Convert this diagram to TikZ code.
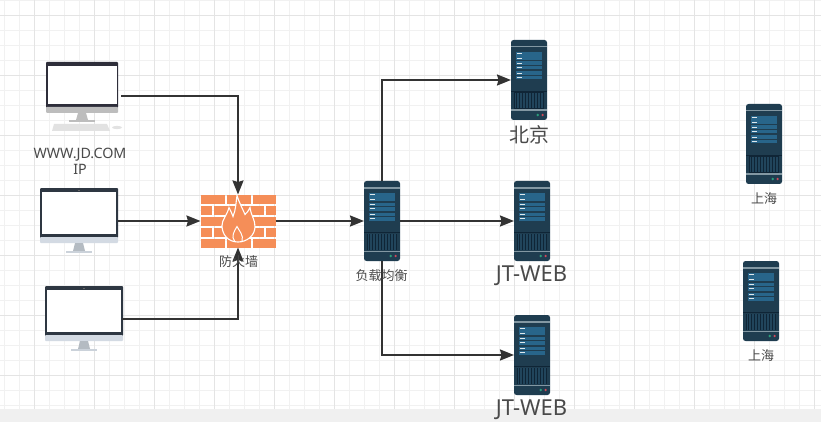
\documentclass[tikz,border=0pt]{standalone}
\usepackage{fontspec}
\setmainfont{Noto Sans}
\newfontfamily\cjk{Noto Sans CJK SC}
\usetikzlibrary{arrows.meta,calc}
\definecolor{gridminor}{HTML}{F1F1F1}
\definecolor{gridmajor}{HTML}{E4E4E4}
\definecolor{barbg}{HTML}{F0F0F0}
\definecolor{linecol}{HTML}{333333}
\definecolor{srvbody}{HTML}{1F3D50}
\definecolor{srvdark}{HTML}{0F2536}
\definecolor{srvlight}{HTML}{8398A3}
\definecolor{srvblue}{HTML}{28658A}
\definecolor{srvgreen}{HTML}{2A9D7A}
\definecolor{srvred}{HTML}{D04A5A}
\definecolor{brick}{HTML}{F58E58}
\definecolor{bezel}{HTML}{2E3742}
\definecolor{bezelb}{HTML}{2E2E3A}
\definecolor{basegray}{HTML}{BDBDBD}
\definecolor{baseblue}{HTML}{D3DAE3}
\definecolor{standgray}{HTML}{B4BBC2}
\definecolor{footblue}{HTML}{CBD2DA}
\definecolor{kbd}{HTML}{E2E2E2}
\definecolor{lblcol}{HTML}{4A4A4A}
\tikzset{
  conn/.style={draw=linecol,line width=2pt,-{Stealth[length=14pt,width=11pt,inset=1.5pt]}},
  iconbox/.style={inner sep=0pt,outer sep=0pt,draw=none},
  srvbox/.style={iconbox,minimum width=36pt,minimum height=80pt},
  lblsmall/.style={inner sep=0pt,text=lblcol,font=\cjk\fontsize{13}{15}\selectfont},
  lblbig/.style={inner sep=0pt,text=lblcol,font=\fontsize{22}{24}\selectfont},
  lblcjkbig/.style={inner sep=0pt,text=lblcol,font=\cjk\fontsize{20}{22}\selectfont},
  serverpic/.pic={
    \fill[srvbody,rounded corners=2.5pt] (0,0) rectangle (36,80);
    \fill[srvlight] (0,6) rectangle (36,7.5);
    \foreach \yy in {12,21.5,31.5}{
      \fill[srvblue] (5,\yy) rectangle (31,\yy+3.6);
      \fill[srvblue] (5,\yy+4.4) rectangle (31,\yy+8);
      \fill[white!85!srvblue] (6,\yy+1.2) rectangle (10.5,\yy+2.4);
      \fill[white!85!srvblue] (6,\yy+5.6) rectangle (10.5,\yy+6.8);
    }
    \fill[srvdark] (0,51) rectangle (36,51.6);
    \fill[srvdark] (3,52.5) rectangle (33,69);
    \foreach \xx in {4,5.5,7,8.5,10,11.5,13,14.5,16,17.5,19,20.5,22,23.5,25,26.5,28,29.5,31}{
      \fill[srvbody!80!srvblue] (\xx,53) rectangle (\xx+0.5,68.5);
    }
    \fill[srvlight] (0,69.5) rectangle (36,71);
    \fill[srvgreen] (26.7,75) circle[radius=1.3];
    \fill[srvred] (31.6,75) circle[radius=1.3];
  },
  monpic/.pic={
    \fill[bezel,rounded corners=1pt] (0,0) rectangle (78,50);
    \fill[white] (1.8,4.2) rectangle (76.2,46);
    \fill[black!60] (38,1.6) rectangle (40,2.6);
    \fill[baseblue,rounded corners=1pt] (0,49) rectangle (78,55);
    \fill[standgray] (35,55) -- (43,55) -- (45,63) -- (33,63) -- cycle;
    \fill[footblue] (26,63) rectangle (52,65);
  },
  monkbpic/.pic={
    \fill[bezelb,rounded corners=1pt] (0,0) rectangle (72,46);
    \fill[white] (1.5,4) rectangle (70.5,42.5);
    \fill[basegray,rounded corners=1pt] (0,45) rectangle (72,51);
    \fill[basegray] (32,51) -- (40,51) -- (42,58) -- (30,58) -- cycle;
    \fill[basegray] (23,58) rectangle (49,60);
    \fill[kbd] (8,62) -- (61,62) -- (64,69) -- (6,69) -- cycle;
    \fill[kbd] (71,65.5) ellipse[x radius=5,y radius=1.6];
  },
  firepic/.pic={
    \foreach \a/\b/\yy in {0/23.5/0,26/49.5/0,52/75/0,
                           0/10.5/11,13/36.5/11,39/62.5/11,65/75/11,
                           0/23.5/22,26/49.5/22,52/75/22,
                           0/10.5/33,13/36.5/33,39/62.5/33,65/75/33,
                           0/23.5/44,26/49.5/44,52/75/44}{
      \fill[brick] (\a,\yy) rectangle (\b,\yy+9.3);
    }
    \fill[brick,draw=white,line width=1.1pt]
      (37,47.5) .. controls (27,47.5) and (21,40) .. (21,31)
      .. controls (21,25) and (26,21) .. (28,13)
      .. controls (30,17) and (31,19) .. (32,22)
      .. controls (35,15) and (35,7) .. (36,1)
      .. controls (38,8) and (42,15) .. (44,20)
      .. controls (46,18) and (48,16) .. (49,13)
      .. controls (50,21) and (54,25) .. (54,32)
      .. controls (54,41) and (46,47.5) .. (37,47.5) -- cycle;
    \draw[white,line width=1pt] (33.5,46.5) .. controls (30,42) and (33,37) .. (36,32)
      .. controls (38,36) and (43,41) .. (41,46.5);
  }
}
\begin{document}
\begin{tikzpicture}[x=1pt,y=-1pt]
\useasboundingbox (0,0) rectangle (821,422);
\fill[white] (0,0) rectangle (821,422);
% grid
\foreach \gx in {4.5,19.5,...,821}{\draw[gridminor,line width=1pt] (\gx,0) -- (\gx,409);}
\foreach \gy in {0.5,15.5,...,409}{\draw[gridminor,line width=1pt] (0,\gy) -- (821,\gy);}
\foreach \gx in {34.5,94.5,...,821}{\draw[gridmajor,line width=1pt] (\gx,0) -- (\gx,409);}
\foreach \gy in {15.5,75.5,...,409}{\draw[gridmajor,line width=1pt] (0,\gy) -- (821,\gy);}
\fill[barbg] (0,409) rectangle (821,422);
% icon anchors
\node[iconbox,minimum width=72pt,minimum height=68pt] (m1) at (82,96) {};
\node[iconbox,minimum width=78pt,minimum height=66pt] (m2) at (79,221) {};
\node[iconbox,minimum width=78pt,minimum height=66pt] (m3) at (84,319) {};
\node[iconbox,minimum width=75pt,minimum height=53pt] (fw) at (238,221) {};
\node[srvbox] (lb) at (382,221) {};
\node[srvbox] (s1) at (529,80) {};
\node[srvbox] (s2) at (532,221) {};
\node[srvbox] (s3) at (532,355) {};
\node[srvbox] (s4) at (764,144) {};
\node[srvbox] (s5) at (761,301) {};
% icons
\pic at (46,62) {monkbpic};
\pic at (40,188) {monpic};
\pic at (45,286) {monpic};
\pic at (201,194.5) {firepic};
\pic at (364,181) {serverpic};
\pic at (511,40) {serverpic};
\pic at (514,181) {serverpic};
\pic at (514,315) {serverpic};
\pic at (746,104) {serverpic};
\pic at (743,261) {serverpic};
% connectors
\draw[conn] ($(m1.east)+(3,0)$) -| (fw.north);
\draw[conn] (m2.east) -- (fw.west);
\draw[conn] ($(m3.east)+(-1,0)$) -| (fw.south);
\draw[conn] (fw.east) -- (lb.west);
\draw[conn] (lb.north) |- (s1.west);
\draw[conn] (lb.east) -- (s2.west);
\draw[conn] (lb.south) |- (s3.west);
% labels
\node[inner sep=0pt,text=lblcol,font=\fontsize{14.3}{16}\selectfont,align=center] (t1) at (80,161) {WWW.JD.COM\\IP};
\node[lblsmall] (t2) at (238.5,262) {防火墙};
\node[lblsmall] (t3) at (381.5,276) {负载均衡};
\node[lblcjkbig] (t4) at (529,135) {北京};
\node[lblbig] (t5) at (531.5,276) {JT-WEB};
\node[lblbig] (t6) at (531.5,410) {JT-WEB};
\node[lblsmall] (t7) at (764,199) {上海};
\node[lblsmall] (t8) at (761,356) {上海};
\end{tikzpicture}
\end{document}
